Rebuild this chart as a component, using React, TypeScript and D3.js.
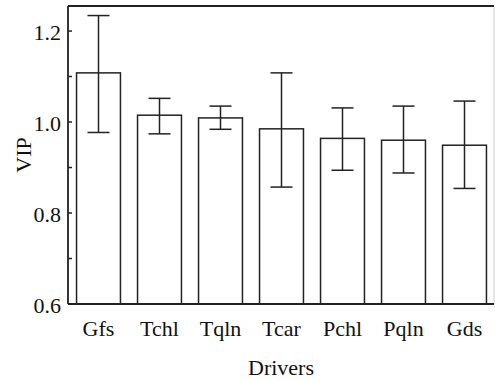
import React from "react";
import * as d3 from "d3";

const categories = ["Gfs", "Tchl", "Tqln", "Tcar", "Pchl", "Pqln", "Gds"];
const values = [1.108, 1.015, 1.009, 0.985, 0.964, 0.96, 0.949];
const upper = [1.234, 1.052, 1.035, 1.108, 1.031, 1.035, 1.046];
const lower = [0.977, 0.974, 0.984, 0.857, 0.894, 0.888, 0.854];
const majorTicks = [0.6, 0.8, 1.0, 1.2];
const minorTicks = [0.7, 0.9, 1.1];

const W = 495;
const H = 381;
const left = 68;
const right = 494;
const top = 6;
const bottom = 304;
const font = "'Liberation Serif', 'Times New Roman', serif";
const ink = "#222";

export default function App() {
  const x = d3
    .scaleBand<string>()
    .domain(categories)
    .range([left, right + 1])
    .paddingInner(0.28)
    .paddingOuter(0.14);
  const y = d3.scaleLinear().domain([0.6, 1.255]).range([bottom, top]);
  const bw = x.bandwidth();
  const cap = 11;

  return (
    <svg
      width={W}
      height={H}
      style={{ position: "absolute", left: 0, top: 0, background: "#fff" }}
    >
      {/* frame */}
      <line x1={right} x2={right} y1={top} y2={bottom} stroke="#ccc" strokeWidth={1} />
      <line x1={left} x2={right} y1={top} y2={top} stroke={ink} strokeWidth={2} />

      {/* bars */}
      {categories.map((c, i) => {
        const x0 = x(c)!;
        const cx = x0 + bw / 2;
        return (
          <g key={c}>
            <rect
              x={x0}
              y={y(values[i])}
              width={bw}
              height={y(0.6) - y(values[i])}
              fill="#fff"
              stroke={ink}
              strokeWidth={1.5}
            />
            <line x1={cx} x2={cx} y1={y(upper[i])} y2={y(lower[i])} stroke={ink} strokeWidth={1.5} />
            <line x1={cx - cap} x2={cx + cap} y1={y(upper[i])} y2={y(upper[i])} stroke={ink} strokeWidth={1.5} />
            <line x1={cx - cap} x2={cx + cap} y1={y(lower[i])} y2={y(lower[i])} stroke={ink} strokeWidth={1.5} />
            <text
              x={cx}
              y={336}
              textAnchor="middle"
              fontFamily={font}
              fontSize={22}
              fill="#111"
            >
              {c}
            </text>
          </g>
        );
      })}

      {/* axes */}
      <line x1={left} x2={left} y1={top} y2={bottom} stroke={ink} strokeWidth={1.8} />
      <line x1={left} x2={right} y1={bottom} y2={bottom} stroke={ink} strokeWidth={1.8} />

      {majorTicks.map((t) => (
        <g key={t}>
          <line x1={left} x2={left + 4} y1={y(t)} y2={y(t)} stroke={ink} strokeWidth={1.5} />
          <text
            x={61}
            y={y(t) + 9}
            textAnchor="end"
            fontFamily={font}
            fontSize={22}
            fill="#111"
          >
            {t.toFixed(1)}
          </text>
        </g>
      ))}
      {minorTicks.map((t) => (
        <line key={t} x1={left} x2={left + 4} y1={y(t)} y2={y(t)} stroke={ink} strokeWidth={1.5} />
      ))}

      <text
        x={(left + right) / 2}
        y={375}
        textAnchor="middle"
        fontFamily={font}
        fontSize={22}
        fill="#111"
      >
        Drivers
      </text>
      <text
        transform={`translate(31, ${(top + bottom) / 2}) rotate(-90)`}
        textAnchor="middle"
        fontFamily={font}
        fontSize={22}
        fill="#111"
      >
        VIP
      </text>
    </svg>
  );
}
